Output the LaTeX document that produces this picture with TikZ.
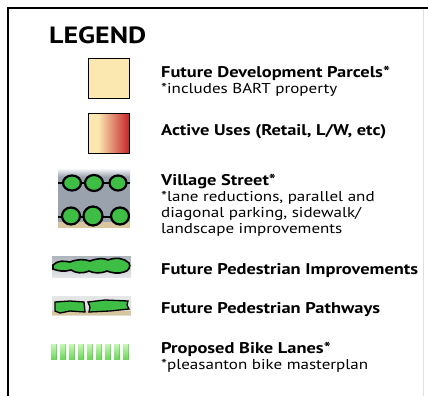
\documentclass[tikz,border=0pt]{standalone}
\usepackage{fontspec}
\setmainfont{PT Sans}[FakeStretch=1.19]
\begin{document}
\begin{tikzpicture}[x=1pt,y=-1pt,
  lbl/.style={anchor=base west,inner sep=0pt,font=\bfseries\fontsize{15.5}{17}\selectfont},
  sub/.style={anchor=base west,inner sep=0pt,font=\fontsize{14.3}{15.8}\selectfont},
  swatch/.style={draw=black,line width=0.9pt},
  blob/.style={draw=black,line width=2.2pt,fill=leafgreen},
  bar/.style={draw=none,top color=barlight,bottom color=bardark}]
\definecolor{parcel}{HTML}{FBE8B1}
\definecolor{activered}{HTML}{C5262B}
\definecolor{leafgreen}{HTML}{3EBE45}
\definecolor{road}{HTML}{9AA2AD}
\definecolor{sky}{HTML}{E4E6E8}
\definecolor{sand}{HTML}{D8C79E}
\definecolor{barlight}{HTML}{C8F7B8}
\definecolor{bardark}{HTML}{6FD65E}
\useasboundingbox (0,0) rectangle (428,396);
\fill[white] (0,0) rectangle (428,396);
% frame
\draw[gray!25,line width=0.8pt] (423,9) -- (423,396);
\draw[line width=2.2pt] (8,396) -- (8,8) -- (428,8);
% title
\node[anchor=base west,inner sep=0pt,font=\bfseries\fontsize{23.5}{26}\selectfont] (title) at (49,43.5) {LEGEND};
% swatches
\draw[swatch,fill=parcel] (88,58) rectangle (129,98);
\shade[left color=parcel,right color=activered] (98,113) rectangle (129,153);
\fill[parcel] (88,113) rectangle (98,153);
\draw[swatch] (88,113) rectangle (129,153);
% village street icon
\fill[road] (58,168) rectangle (130,228);
\shade[top color=white,bottom color=road] (58,168) rectangle (130,177);
\fill[sand] (58,222) rectangle (130,228);
\draw[line width=2pt] (58,183) -- (130,183);
\draw[line width=2pt] (58,217) -- (130,217);
\foreach \cx/\rx/\ry in {72/9/7.5,94/9/8,118/8.5/7.5} \draw[blob] (\cx,183) ellipse ({\rx} and {\ry});
\foreach \cx/\rx/\ry in {71/9/8.5,93/9.5/9.5,120/9/8.5} \draw[blob] (\cx,216) ellipse ({\rx} and {\ry});
% pedestrian improvements icon
\shade[top color=road!80,bottom color=sky] (52,256) rectangle (131,277);
\draw[blob,line width=1.6pt] (53,265) .. controls (58,260) and (64,261) .. (70,262)
  .. controls (78,259) and (84,259) .. (90,261) .. controls (98,258) and (104,258) .. (108,260)
  .. controls (116,257) and (124,258) .. (129,263) .. controls (131,266) and (129,271) .. (124,272)
  .. controls (118,274) and (112,273) .. (107,271) .. controls (100,274) and (93,273) .. (89,271)
  .. controls (82,274) and (76,273) .. (71,270) .. controls (64,272) and (58,271) .. (53,269) -- cycle;
% pathways icon
\shade[top color=sky,bottom color=sky!70!sand] (52,296) rectangle (131,315);
\fill[sand] (52,311) rectangle (131,315);
\draw[blob,line width=1.3pt] (55,302) -- (70,301) -- (84,302) -- (85,312) -- (70,311) -- (60,313) -- (55,311) -- cycle;
\draw[blob,line width=1.3pt] (88,302) -- (105,300) -- (128,301) -- (127,305) -- (129,309) -- (110,311) -- (89,312) -- (90,307) -- cycle;
% bike lanes icon
\foreach \i in {0,...,8} {
  \shade[bar] ({51+9*\i},344) rectangle ({57+9*\i},359);
  \fill[bardark!70!black,opacity=0.35] ({55.5+9*\i},344) rectangle ({57+9*\i},359);
}
% labels
\node[lbl] (l1) at (161,77.5) {Future Development Parcels*};
\node[sub] (s1) at (161,93) {*includes BART property};
\node[lbl] (l2) at (161,135) {Active Uses (Retail, L/W, etc)};
\node[lbl] (l3) at (161,185.5) {Village Street*};
\node[sub] (s3a) at (161,201.5) {*lane reductions, parallel and};
\node[sub] (s3b) at (161,217.5) {diagonal parking, sidewalk/};
\node[sub] (s3c) at (161,233) {landscape improvements};
\node[lbl] (l4) at (161,274) {Future Pedestrian Improvements};
\node[lbl] (l5) at (161,313) {Future Pedestrian Pathways};
\node[lbl] (l6) at (161,353) {Proposed Bike Lanes*};
\node[sub] (s6) at (161,369) {*pleasanton bike masterplan};
\end{tikzpicture}
\end{document}
